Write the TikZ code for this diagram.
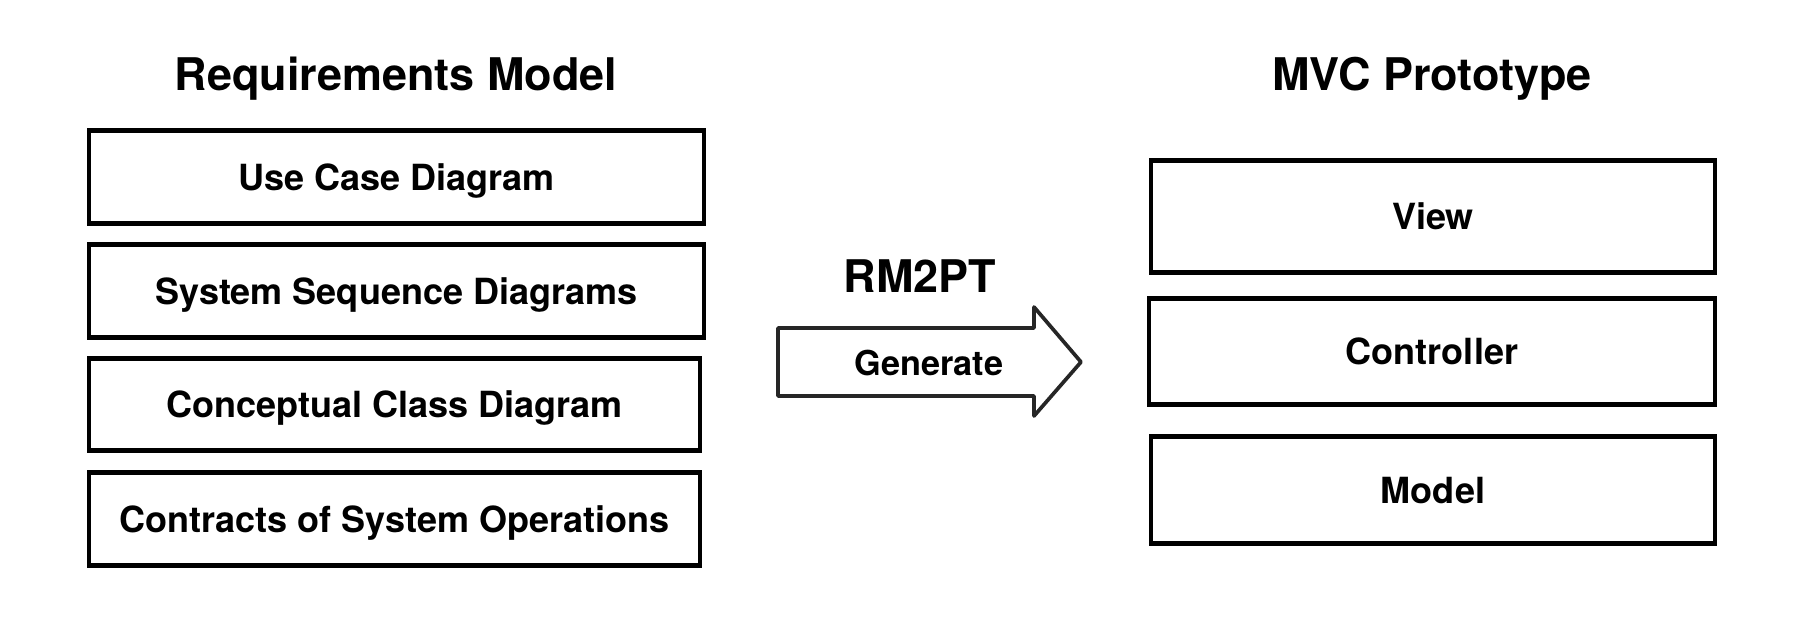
\documentclass[tikz,border=0pt]{standalone}
\usepackage{fontspec}
\setmainfont{TeX Gyre Heros}
\usepackage{tikz}

\begin{document}
\begin{tikzpicture}
  [x=0.02cm,y=-0.02cm,
   every node/.style={font=\bfseries\fontsize{20.5}{24}\selectfont,text depth=0pt},
   title/.style={font=\bfseries\fontsize{25.6}{30}\selectfont},
   layer/.style={draw,line width=2.3pt,minimum width=12.32cm,minimum height=1.86cm},
   mvc/.style={draw,line width=2.3pt,minimum width=11.3cm,minimum height=2.14cm}]
  \useasboundingbox (0,0) rectangle (1796,632);

  % requirements model
  \node[title] (reqtitle) at (396,74) {Requirements Model};
  \node[layer] (usecase)   at (396.5,177)   {Use Case Diagram};
  \node[layer] (ssd)       at (396.5,291)   {System Sequence Diagrams};
  \node[layer,minimum width=12.24cm,minimum height=1.84cm] (classdiag) at (394.5,404.5) {Conceptual Class Diagram};
  \node[layer,minimum width=12.24cm] (contracts) at (394.5,519) {Contracts of System Operations};

  % transformation
  \node[title] (rmpt) at (920,276) {RM2PT};
  \draw[line width=2.1pt,color=black!85,line join=round]
    (778,328) -- (1034,328) -- (1034,307) -- (1081,362)
    -- (1034,416) -- (1034,396) -- (778,396) -- cycle;
  \node[font=\bfseries\fontsize{19.5}{23}\selectfont] (gen) at (929,363) {Generate};

  % mvc prototype
  \node[title] (mvctitle) at (1432,74) {MVC Prototype};
  \node[mvc,minimum height=2.24cm] (view) at (1433,216.5) {View};
  \node[mvc,minimum width=11.34cm,minimum height=2.12cm] (ctrl) at (1432,351.5) {Controller};
  \node[mvc] (model) at (1433,490) {Model};
\end{tikzpicture}
\end{document}
